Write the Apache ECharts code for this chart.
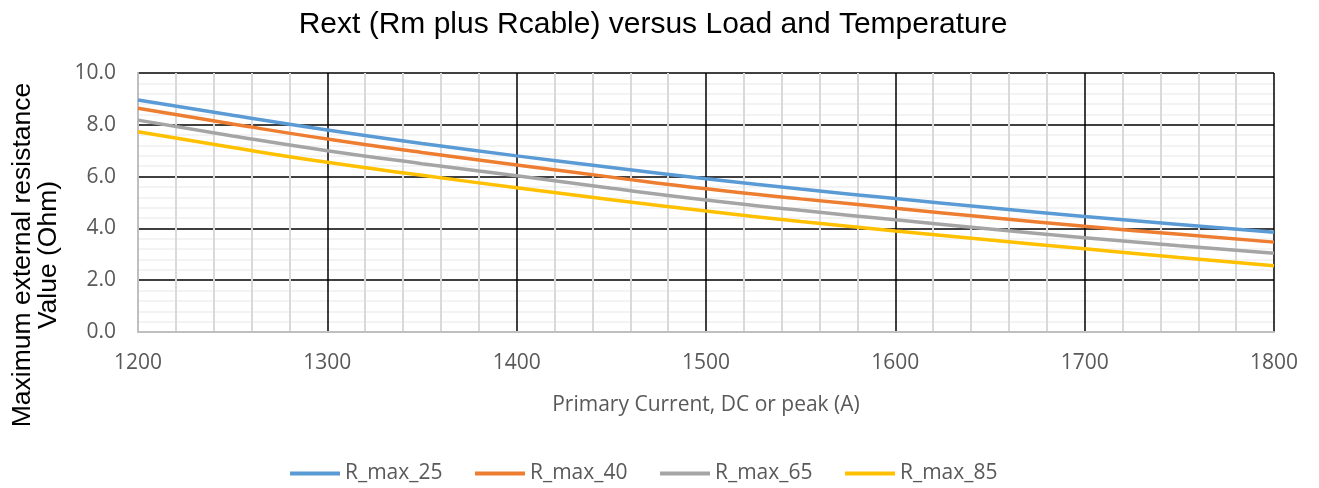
<!DOCTYPE html>
<html><head><meta charset="utf-8">
<script src="https://cdn.jsdelivr.net/npm/echarts@6/dist/echarts.min.js"></script>
<style>html,body{margin:0;padding:0;background:#fff}#c{width:1319px;height:488px}</style>
</head><body><div id="c"></div>
<script>
const xValues = [1200,1250,1300,1350,1400,1450,1500,1550,1600,1650,1700,1750,1800];
const R_max_25 = [8.96,8.37,7.80,7.28,6.80,6.35,5.92,5.52,5.15,4.80,4.46,4.15,3.85];
const R_max_40 = [8.64,8.03,7.45,6.93,6.45,5.98,5.53,5.14,4.78,4.42,4.08,3.77,3.47];
const R_max_65 = [8.18,7.57,7.00,6.50,6.03,5.55,5.10,4.70,4.33,3.98,3.64,3.33,3.04];
const R_max_85 = [7.73,7.12,6.55,6.05,5.57,5.11,4.67,4.27,3.90,3.55,3.21,2.88,2.56];
const seriesNames = ['R_max_25','R_max_40','R_max_65','R_max_85'];
const seriesData = [R_max_25,R_max_40,R_max_65,R_max_85];
const colors = ['#5B9BD5','#ED7D31','#A5A5A5','#FFC000'];
const legendLefts = [285,470,655,840];

const chart = echarts.init(document.getElementById('c'));
chart.setOption({
  animation:false,
  color:colors,
  title:{text:'Rext (Rm plus Rcable) versus Load and Temperature',left:648,textAlign:'center',top:5,
    textStyle:{fontFamily:'Liberation Sans',fontSize:30,fontWeight:'normal',color:'#000'}},
  grid:{left:138,right:45,top:73,bottom:156,containLabel:false,outerBoundsMode:'none'},
  legend:seriesNames.map((n,i)=>({left:legendLefts[i],top:458,itemWidth:50,itemHeight:4,itemGap:5,icon:'rect',
    textStyle:{fontFamily:'Open Sans',fontSize:21,color:'#595959'},data:[n]})),
  graphic:[
    {type:'text',x:23,y:255,rotation:Math.PI/2,style:{text:'Maximum external resistance',fill:'#000',
      font:'26.5px "Liberation Sans"',textAlign:'center',textVerticalAlign:'middle'}},
    {type:'text',x:49,y:255,rotation:Math.PI/2,style:{text:'Value (Ohm)',fill:'#000',
      font:'26.5px "Liberation Sans"',textAlign:'center',textVerticalAlign:'middle'}}
  ],
  xAxis:{type:'value',min:1200,max:1800,interval:100,
    name:'Primary Current, DC or peak (A)',nameLocation:'middle',nameGap:63,
    nameTextStyle:{fontFamily:'Open Sans',fontSize:21,color:'#595959'},
    axisLine:{show:true,lineStyle:{color:'#BFBFBF',width:2}},
    axisTick:{show:false},
    axisLabel:{fontFamily:'Open Sans',fontSize:21,color:'#595959',margin:21,formatter:v=>String(v)},
    splitLine:{show:true,lineStyle:{color:'#000',width:1.5}},
    minorTick:{show:false,splitNumber:5},
    minorSplitLine:{show:true,lineStyle:{color:'#D9D9D9',width:2}}},
  yAxis:{type:'value',min:0,max:10,interval:2,
    axisLine:{show:true,lineStyle:{color:'#BFBFBF',width:2}},
    axisTick:{show:false},
    axisLabel:{fontFamily:'Open Sans',fontSize:21,color:'#595959',margin:22,formatter:v=>v.toFixed(1)},
    splitLine:{show:true,lineStyle:{color:'#000',width:1.5}},
    minorTick:{show:false,splitNumber:5},
    minorSplitLine:{show:true,lineStyle:{color:'#F0F0F0',width:1.5}}},
  series:seriesNames.map((n,i)=>({name:n,type:'line',smooth:true,showSymbol:false,
    lineStyle:{width:3.5,color:colors[i]},
    data:xValues.map((x,j)=>[x,seriesData[i][j]])}))
});
</script></body></html>
